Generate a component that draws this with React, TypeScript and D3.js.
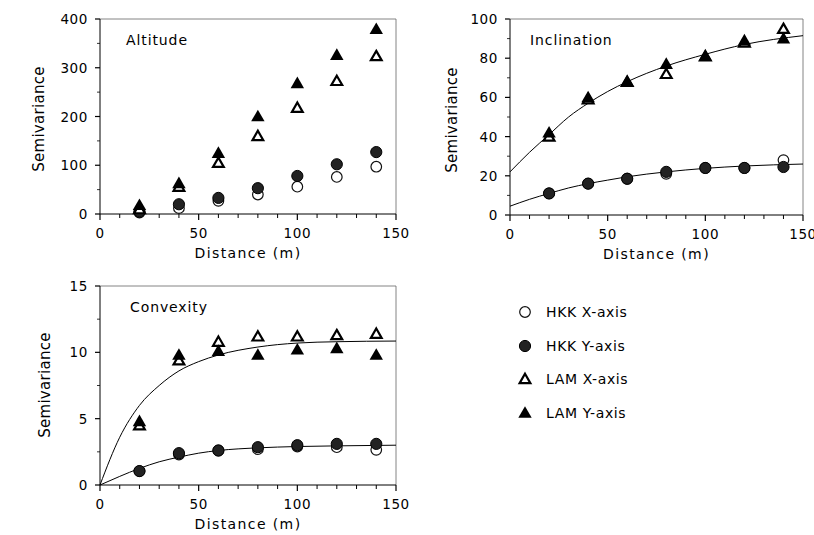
import React from 'react';
import * as d3 from 'd3';

// lag distances (m) where semivariance was measured
const distances = [20, 40, 60, 80, 100, 120, 140];

// Altitude
const altHkkX = [3, 12, 27, 40, 56, 76, 97];
const altHkkY = [5, 20, 33, 53, 78, 102, 127];
const altLamX = [10, 56, 105, 160, 218, 273, 324];
const altLamY = [18, 63, 125, 200, 268, 326, 379];

// Inclination
const incHkkX = [11, 16, 18.5, 21, 24, 24, 28];
const incHkkY = [11, 16, 18.5, 22, 24, 24, 24.5];
const incLamX = [40, 59, 68, 72, 81, 88, 95];
const incLamY = [42, 60, 68, 77, 81, 89, 90];

// Convexity
const convHkkX = [1.05, 2.3, 2.6, 2.7, 2.9, 2.85, 2.65];
const convHkkY = [1.05, 2.4, 2.6, 2.85, 3.0, 3.1, 3.1];
const convLamX = [4.5, 9.4, 10.8, 11.2, 11.2, 11.3, 11.4];
const convLamY = [4.8, 9.8, 10.1, 9.8, 10.2, 10.3, 9.8];

// fitted model curves
const fitDist = [0, 10, 20, 30, 40, 50, 60, 80, 100, 120, 150];
const incLamFit = [22, 32, 41, 50, 57, 63, 68, 76, 82, 87, 91.5];
const incHkkFit = [4.5, 8, 11, 13.8, 16, 17.8, 19.5, 22, 23.8, 25, 26];
const convLamFit = [0, 3.6, 6.0, 7.5, 8.6, 9.3, 9.8, 10.4, 10.7, 10.8, 10.85];
const convHkkFit = [0, 0.65, 1.25, 1.75, 2.1, 2.4, 2.6, 2.8, 2.9, 2.95, 3.0];

const xTicks = [0, 50, 100, 150];
const legendLabels = ['HKK X-axis', 'HKK Y-axis', 'LAM X-axis', 'LAM Y-axis'];
const kinds = ['openCircle', 'filledCircle', 'openTriangle', 'filledTriangle'];

const font = '"DejaVu Sans", Verdana, sans-serif';

const triFilled = d3.symbol(d3.symbolTriangle, 78)();
const triOpen = d3.symbol(d3.symbolTriangle, 50)();

const Marker = ({ kind, x, y }) => {
  if (kind === 'openCircle')
    return <circle cx={x} cy={y} r={5.3} fill="#fff" stroke="#111" strokeWidth={1.2} />;
  if (kind === 'filledCircle')
    return <circle cx={x} cy={y} r={5.6} fill="#222" stroke="#000" strokeWidth={1} />;
  if (kind === 'openTriangle')
    return <path d={triOpen} transform={`translate(${x},${y + 1})`} fill="#fff" stroke="#000" strokeWidth={2.2} strokeLinejoin="miter" />;
  return <path d={triFilled} transform={`translate(${x},${y + 1})`} fill="#000" />;
};

const Panel = ({ left, top, width, height, yMax, yStep, title, titleX, titleY, ylabelX, ylabelY, series, fits }) => {
  const x = d3.scaleLinear().domain([0, 150]).range([left, left + width]);
  const y = d3.scaleLinear().domain([0, yMax]).range([top + height, top]);
  const yTicks = d3.range(0, yMax + yStep / 2, yStep);
  const yMinor = d3.range(yStep / 2, yMax, yStep);
  const xMinor = d3.range(0, 151, 10).filter(v => v % 50 !== 0);
  const line = d3.line<number>().x((d, i) => x(fitDist[i])).y(d => y(d)).curve(d3.curveMonotoneX);
  const bottom = top + height;

  return (
    <g fontFamily={font} fill="#000">
      {/* frame */}
      <line x1={left} x2={left + width} y1={top} y2={top} stroke="#666" strokeWidth={0.8} />
      <line x1={left + width} x2={left + width} y1={top} y2={bottom} stroke="#666" strokeWidth={0.8} />
      <line x1={left} x2={left + width} y1={bottom} y2={bottom} stroke="#000" strokeWidth={1} />
      <line x1={left} x2={left} y1={top} y2={bottom} stroke="#000" strokeWidth={1} />

      {xTicks.map(t => (
        <g key={'xt' + t}>
          <line x1={x(t)} x2={x(t)} y1={bottom} y2={bottom + 6} stroke="#000" strokeWidth={1.2} />
          <text x={x(t)} y={bottom + 23.5} textAnchor="middle" fontSize={13.5} letterSpacing={0.6}>{t}</text>
        </g>
      ))}
      {xMinor.map(t => (
        <line key={'xm' + t} x1={x(t)} x2={x(t)} y1={bottom} y2={bottom + 4} stroke="#000" strokeWidth={1} />
      ))}
      {yTicks.map(t => (
        <g key={'yt' + t}>
          <line x1={left - 5} x2={left} y1={y(t)} y2={y(t)} stroke="#000" strokeWidth={1.2} />
          <text x={left - 12} y={y(t) + 5} textAnchor="end" fontSize={13.5} letterSpacing={0.6}>{t}</text>
        </g>
      ))}
      {yMinor.map(t => (
        <line key={'ym' + t} x1={left - 3} x2={left} y1={y(t)} y2={y(t)} stroke="#000" strokeWidth={0.8} />
      ))}

      <text x={left + width / 2} y={bottom + 44} textAnchor="middle" fontSize={14} letterSpacing={1.4}>Distance (m)</text>
      <text transform={`translate(${ylabelX},${ylabelY}) rotate(-90)`} textAnchor="middle" fontSize={15} letterSpacing={0.3}>Semivariance</text>
      <text x={titleX} y={titleY} fontSize={14} letterSpacing={0.9}>{title}</text>

      {fits.map((f, i) => (
        <path key={'fit' + i} d={line(f) || ''} fill="none" stroke="#000" strokeWidth={1} />
      ))}

      {series.map((s, si) =>
        s.map((v, i) => <Marker key={si + '-' + i} kind={kinds[si]} x={x(distances[i])} y={y(v)} />)
      )}
    </g>
  );
};

export default function App() {
  const legendY = [312, 346, 379, 413];
  return (
    <svg width={814} height={535} style={{ position: 'absolute', left: 0, top: 0, background: '#fff' }}>
      <rect width={814} height={535} fill="#fff" />
      <Panel left={100} top={19} width={296} height={195} yMax={400} yStep={100}
        title="Altitude" titleX={126} titleY={45} ylabelX={44} ylabelY={119}
        series={[altHkkX, altHkkY, altLamX, altLamY]} fits={[]} />
      <Panel left={510} top={19} width={293} height={196} yMax={100} yStep={20}
        title="Inclination" titleX={530} titleY={45} ylabelX={457} ylabelY={120}
        series={[incHkkX, incHkkY, incLamX, incLamY]} fits={[incLamFit, incHkkFit]} />
      <Panel left={100} top={286} width={296} height={199} yMax={15} yStep={5}
        title="Convexity" titleX={130} titleY={312} ylabelX={50} ylabelY={385}
        series={[convHkkX, convHkkY, convLamX, convLamY]} fits={[convLamFit, convHkkFit]} />

      <g fontFamily={font}>
        {legendLabels.map((lab, i) => (
          <g key={lab}>
            <Marker kind={kinds[i]} x={525} y={legendY[i]} />
            <text x={546} y={legendY[i] + 5} fontSize={14} letterSpacing={0.6}>{lab}</text>
          </g>
        ))}
      </g>
    </svg>
  );
}
